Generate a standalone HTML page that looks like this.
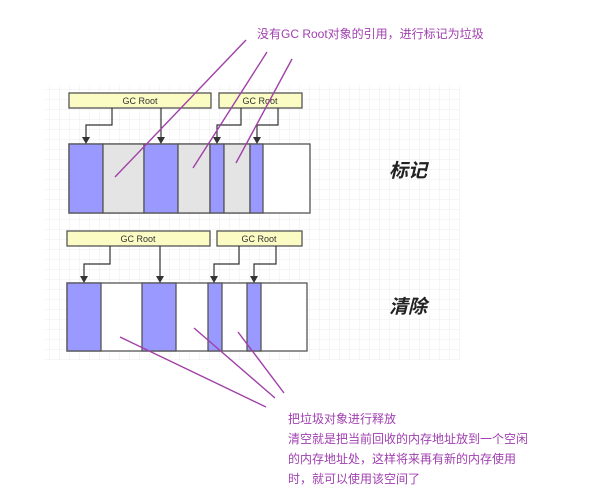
<!DOCTYPE html>
<html><head><meta charset="utf-8"><style>
body{margin:0;background:#fff;width:612px;height:496px;overflow:hidden}
svg{display:block}
.t{font-family:"Liberation Sans","Noto Sans CJK SC",sans-serif}
</style></head><body>
<svg width="612" height="496" viewBox="0 0 612 496" xmlns="http://www.w3.org/2000/svg">
<defs>
<pattern id="g" width="10" height="10" patternUnits="userSpaceOnUse"><path d="M10 0V10H0" fill="none" stroke="#ececec" stroke-width="1"/></pattern>
<marker id="a" markerWidth="8" markerHeight="8" refX="4" refY="7" orient="auto" markerUnits="userSpaceOnUse"><path d="M0,0 L8,0 L4,8z" fill="#333" transform="rotate(-90 4 4)"/></marker>
</defs>
<rect x="45" y="85" width="415" height="275" fill="url(#g)"/>
<g stroke="#555" stroke-width="1.3">
<rect x="69" y="93" width="142" height="15" fill="#fbfbc4"/>
<rect x="219" y="93" width="83" height="15" fill="#fbfbc4"/>
<rect x="69" y="144" width="241" height="69" fill="#fff"/>
<rect x="69" y="144" width="34" height="69" fill="#9999ff"/>
<rect x="103" y="144" width="41" height="69" fill="#e4e4e4"/>
<rect x="144" y="144" width="34" height="69" fill="#9999ff"/>
<rect x="178" y="144" width="32" height="69" fill="#e4e4e4"/>
<rect x="210" y="144" width="14" height="69" fill="#9999ff"/>
<rect x="224" y="144" width="26" height="69" fill="#e4e4e4"/>
<rect x="250" y="144" width="13" height="69" fill="#9999ff"/>
<rect x="67" y="231" width="143" height="15" fill="#fbfbc4"/>
<rect x="217" y="231" width="85" height="15" fill="#fbfbc4"/>
<rect x="67" y="283" width="240" height="68" fill="#fff"/>
<rect x="67" y="283" width="34" height="68" fill="#9999ff"/>
<rect x="142" y="283" width="34" height="68" fill="#9999ff"/>
<rect x="208" y="283" width="14" height="68" fill="#9999ff"/>
<rect x="247" y="283" width="14" height="68" fill="#9999ff"/>
</g>
<g stroke="#333" stroke-width="1.2" fill="none">
<path d="M112 108V125H86V137"/><path d="M161 108V137"/><path d="M241 108V125H217V137"/><path d="M278 108V125H257V137"/>
<path d="M110 246V264H84V276"/><path d="M160 246V276"/><path d="M239 246V264H214V276"/><path d="M276 246V264H254V276"/>
</g>
<g fill="#333">
<path d="M82 137h8l-4 7z"/><path d="M157 137h8l-4 7z"/><path d="M213 137h8l-4 7z"/><path d="M253 137h8l-4 7z"/>
<path d="M80 276h8l-4 7z"/><path d="M156 276h8l-4 7z"/><path d="M210 276h8l-4 7z"/><path d="M250 276h8l-4 7z"/>
</g>
<g class="t" font-size="9" fill="#333" text-anchor="middle">
<text x="140" y="104">GC Root</text><text x="260" y="104">GC Root</text>
<text x="138" y="242">GC Root</text><text x="259" y="242">GC Root</text>
</g>
<g class="t" font-size="19" font-weight="bold" font-style="italic" fill="#222">
<text x="389" y="177">标记</text><text x="389" y="313">清除</text>
</g>
<g stroke="#a040a8" stroke-width="1.4">
<line x1="246" y1="40" x2="115" y2="177"/><line x1="267" y1="52" x2="193" y2="168"/><line x1="292" y1="59" x2="236" y2="163"/>
<line x1="120" y1="337" x2="266" y2="407"/><line x1="194" y1="328" x2="275" y2="398"/><line x1="238" y1="332" x2="284" y2="393"/>
</g>
<g class="t" font-size="12" fill="#a040b0">
<text x="257" y="38">没有GC Root对象的引用，进行标记为垃圾</text>
<text x="288" y="423">把垃圾对象进行释放</text>
<text x="288" y="443">清空就是把当前回收的内存地址放到一个空闲</text>
<text x="288" y="463">的内存地址处，这样将来再有新的内存使用</text>
<text x="288" y="483">时，就可以使用该空间了</text>
</g>
</svg>
</body></html>
